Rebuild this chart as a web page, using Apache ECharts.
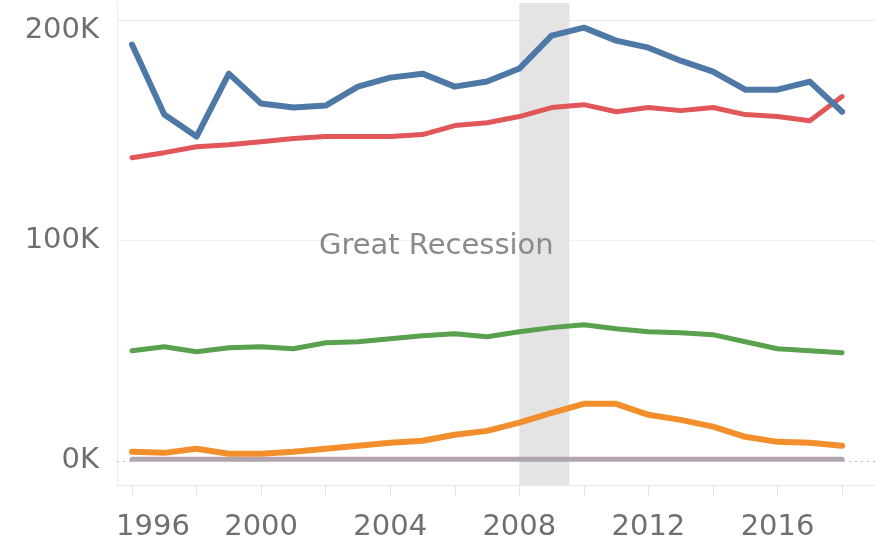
<!DOCTYPE html>
<html>
<head>
<meta charset="utf-8">
<title>Great Recession</title>
<script src="https://cdn.jsdelivr.net/npm/echarts@6/dist/echarts.min.js"></script>
<style>
    html, body {margin: 0; padding: 0; background: #fff;}
    #chart {width: 875px; height: 545px;}
</style>
</head>
<body>
<div id="chart"></div>
<script>
    var years = [1996, 1997, 1998, 1999, 2000, 2001, 2002, 2003, 2004, 2005, 2006, 2007,
        2008, 2009, 2010, 2011, 2012, 2013, 2014, 2015, 2016, 2017, 2018];

    // values in thousands
    var blueValues = [189.1, 157.3, 147.3, 175.9, 162.3, 160.5, 161.4, 170.0, 174.1, 175.9, 170.0, 172.3,
        178.2, 193.2, 196.8, 190.9, 187.7, 181.8, 176.8, 168.6, 168.6, 172.3, 158.6];
    var redValues = [137.7, 140.0, 142.7, 143.6, 145.0, 146.4, 147.3, 147.3, 147.3, 148.2, 152.3, 153.6,
        156.4, 160.5, 161.8, 158.6, 160.5, 159.1, 160.5, 157.3, 156.4, 154.5, 165.5];
    var greenValues = [50.0, 51.8, 49.5, 51.4, 51.8, 50.9, 53.6, 54.1, 55.5, 56.8, 57.7, 56.4,
        58.6, 60.5, 61.8, 60.0, 58.6, 58.2, 57.3, 54.1, 50.9, 50.0, 49.1];
    var orangeValues = [4.1, 3.6, 5.5, 3.2, 3.2, 4.1, 5.5, 6.8, 8.2, 9.1, 11.8, 13.6,
        17.3, 21.8, 25.9, 25.9, 20.9, 18.6, 15.5, 10.9, 8.6, 8.2, 6.8];
    var grayValues = [0.7, 0.7, 0.7, 0.7, 0.7, 0.7, 0.7, 0.7, 0.7, 0.7, 0.7, 0.7,
        0.7, 0.7, 0.7, 0.7, 0.7, 0.7, 0.7, 0.7, 0.7, 0.7, 0.7];

    var yTicks = [0, 100000, 200000];
    var xTicks = [1996, 1998, 2000, 2002, 2004, 2006, 2008, 2010, 2012, 2014, 2016, 2018];
    var xLabels = [1996, 2000, 2004, 2008, 2012, 2016];
    var recession = [2008, 2009.55];

    var font = '"DejaVu Sans", sans-serif';

    function pairs(values) {
        return years.map(function (y, i) {
            return [y, values[i] * 1000];
        });
    }

    function lineSeries(name, values, color, width) {
        return {
            name: name,
            type: 'line',
            data: pairs(values),
            symbol: 'none',
            lineStyle: {color: color, width: width, cap: 'round', join: 'round'},
            itemStyle: {color: color}
        };
    }

    var gray = lineSeries('gray', grayValues, '#b3a5af', 5);
    gray.markLine = {
        silent: true,
        symbol: 'none',
        label: {show: false},
        lineStyle: {color: '#b9b9b9', type: [2, 4], width: 1},
        data: [{yAxis: 0}]
    };

    var option = {
        animation: false,
        backgroundColor: '#fff',
        grid: {left: 117, right: 0, top: 3, bottom: 60},
        xAxis: {
            type: 'value',
            min: 1995.535,
            max: 2019.02,
            axisLine: {onZero: false, lineStyle: {color: '#e6e6e6', width: 1}},
            axisTick: {
                customValues: xTicks,
                length: 10,
                lineStyle: {color: '#e2e2e2'}
            },
            splitLine: {show: false},
            axisLabel: {
                customValues: xLabels,
                margin: 28,
                fontFamily: font,
                fontSize: 29,
                color: '#6f6f6f',
                formatter: function (v) {
                    return v === 1996 ? '{f|1996}' : String(v);
                },
                rich: {
                    f: {padding: [0, 0, 0, 42]}
                }
            }
        },
        yAxis: {
            type: 'value',
            min: -11000,
            max: 208000,
            axisLine: {show: true, lineStyle: {color: '#ececec', width: 1}},
            axisTick: {show: false, customValues: yTicks},
            splitLine: {
                show: true,
                lineStyle: {color: ['rgba(0,0,0,0)', '#f2f2f2', '#e8e8e8'], width: 1}
            },
            axisLabel: {
                customValues: yTicks,
                margin: 18,
                fontFamily: font,
                fontSize: 29,
                color: '#6f6f6f',
                formatter: function (v) {
                    var s = Math.round(v / 1000) + 'K';
                    return v === 200000 ? '{t|' + s + '}' : s;
                },
                rich: {
                    t: {padding: [20, 0, 0, 0]}
                }
            }
        },
        series: [
            {
                name: 'recession',
                type: 'line',
                data: [],
                markArea: {
                    silent: true,
                    itemStyle: {color: '#e4e4e4'},
                    label: {
                        show: true,
                        position: [-83, 243],
                        align: 'center',
                        verticalAlign: 'middle',
                        fontFamily: font,
                        fontSize: 29,
                        color: '#8a8a8a'
                    },
                    data: [[{name: 'Great Recession', xAxis: recession[0]}, {xAxis: recession[1]}]]
                }
            },
            gray,
            lineSeries('orange', orangeValues, '#f28e2b', 6),
            lineSeries('green', greenValues, '#59a14f', 5),
            lineSeries('red', redValues, '#e15759', 5),
            lineSeries('blue', blueValues, '#4e79a7', 6)
        ]
    };

    var myChart = echarts.init(document.getElementById('chart'));
    myChart.setOption(option);
</script>
</body>
</html>
